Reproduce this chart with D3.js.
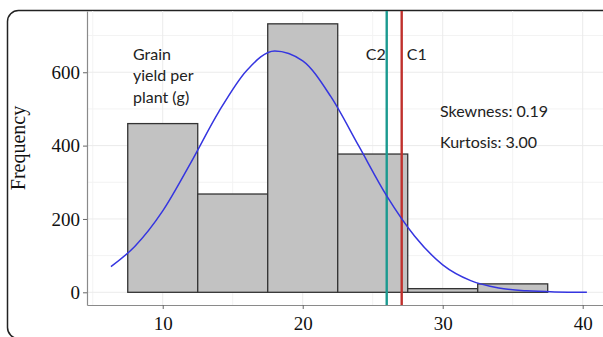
<!DOCTYPE html>
<html><head><meta charset="utf-8">
<script src="https://cdn.jsdelivr.net/npm/d3@7"></script>
<style>html,body{margin:0;padding:0;background:#fff;}svg{display:block;}</style>
</head><body>
<svg id="chart" width="603" height="337"></svg>
<script>
// Histogram bins (grain yield per plant, g)
const binStarts = [7.5, 12.5, 17.5, 22.5, 27.5, 32.5];
const binWidth = 5;
const frequencies = [460, 268, 732, 377, 10, 23];
// Fitted density curve, x values and frequency values
const curveX = [6.3, 8, 10, 12, 14, 16, 18, 20, 22, 24, 26, 28, 30, 32, 34, 36, 38, 40.3];
const curveY = [70, 125, 222, 353, 492, 605, 658, 631, 534, 399, 263, 153, 75, 32, 12, 4, 1, 0];
// Reference lines
const refLines = [{label: "C2", value: 26.0, color: "#1a9a90"}, {label: "C1", value: 27.07, color: "#c0302c"}];
const xTicks = [10, 20, 30, 40];
const yTicks = [0, 200, 400, 600];
const xMinor = [5, 15, 25, 35];
const yMinor = [100, 300, 500, 700];
const annoLines = ["Grain", "yield per", "plant (g)"];
const statsText = ["Skewness: 0.19", "Kurtosis: 3.00"];

const svg = d3.select("#chart");
const panel = {left: 87, right: 603, top: 11, bottom: 305};
const x = d3.scaleLinear().domain([4.59, 41.45]).range([panel.left, panel.right]);
const y = d3.scaleLinear().domain([-34.6, 767]).range([panel.bottom, panel.top]);

// outer frame
svg.append("rect").attr("x", 7.5).attr("y", 10.5).attr("width", 640).attr("height", 328)
  .attr("rx", 11).attr("fill", "none").attr("stroke", "#222").attr("stroke-width", 1.5);

// grid
const g = svg.append("g");
g.selectAll(".gxm").data(xMinor).join("line").attr("x1", d => x(d)).attr("x2", d => x(d))
  .attr("y1", panel.top).attr("y2", panel.bottom).attr("stroke", "#f3f3f3").attr("stroke-width", 1);
g.selectAll(".gym").data(yMinor).join("line").attr("y1", d => y(d)).attr("y2", d => y(d))
  .attr("x1", panel.left).attr("x2", panel.right).attr("stroke", "#f3f3f3").attr("stroke-width", 1);
g.selectAll(".gx").data(xTicks).join("line").attr("x1", d => x(d)).attr("x2", d => x(d))
  .attr("y1", panel.top).attr("y2", panel.bottom).attr("stroke", "#ebebeb").attr("stroke-width", 1);
g.selectAll(".gy").data(yTicks).join("line").attr("y1", d => y(d)).attr("y2", d => y(d))
  .attr("x1", panel.left).attr("x2", panel.right).attr("stroke", "#ebebeb").attr("stroke-width", 1);

// bars
svg.append("g").selectAll("rect").data(binStarts).join("rect")
  .attr("x", d => x(d)).attr("width", d => x(d + binWidth) - x(d))
  .attr("y", (d, i) => y(frequencies[i])).attr("height", (d, i) => y(0) - y(frequencies[i]))
  .attr("fill", "#c2c2c2").attr("stroke", "#333").attr("stroke-width", 1.3);

// reference lines
svg.append("g").selectAll("line").data(refLines).join("line")
  .attr("x1", d => x(d.value)).attr("x2", d => x(d.value))
  .attr("y1", panel.top).attr("y2", panel.bottom)
  .attr("stroke", d => d.color).attr("stroke-width", 2.4);

// curve
const pts = curveX.map((v, i) => [v, curveY[i]]);
svg.append("path").datum(pts)
  .attr("d", d3.line().x(d => x(d[0])).y(d => y(d[1])).curve(d3.curveMonotoneX))
  .attr("fill", "none").attr("stroke", "#3535e0").attr("stroke-width", 1.5);

// axes
const xAxis = svg.append("g").attr("transform", `translate(0,${panel.bottom})`)
  .call(d3.axisBottom(x).tickValues(xTicks).tickSize(4).tickPadding(8).tickSizeOuter(0));
const yAxis = svg.append("g").attr("transform", `translate(${panel.left},0)`)
  .call(d3.axisLeft(y).tickValues(yTicks).tickSize(4).tickPadding(3).tickSizeOuter(0));
[xAxis, yAxis].forEach(a => {
  a.select(".domain").attr("stroke", "#8a8a8a").attr("stroke-width", 1.2);
  a.selectAll(".tick line").attr("stroke", "#666");
  a.selectAll("text").attr("font-family", "'Liberation Serif', 'DejaVu Serif', serif")
    .attr("font-size", 19).attr("fill", "#111");
});
xAxis.selectAll("text").attr("dy", "0.71em");

svg.append("text").attr("transform", "translate(25,148) rotate(-90)")
  .attr("text-anchor", "middle").attr("font-family", "'Liberation Serif', serif")
  .attr("font-size", 20).attr("fill", "#111").text("Frequency");

// annotations
const sans = "Lato, 'Open Sans', sans-serif";
svg.append("g").selectAll("text").data(annoLines).join("text")
  .attr("x", 133).attr("y", (d, i) => 59.5 + i * 21.5)
  .attr("font-family", sans).attr("font-size", 16).attr("fill", "#222").text(d => d);
svg.append("text").attr("x", x(refLines[0].value) - 21).attr("y", 59.5)
  .attr("font-family", sans).attr("font-size", 16).attr("fill", "#222").text(refLines[0].label);
svg.append("text").attr("x", x(refLines[1].value) + 5).attr("y", 59.5)
  .attr("font-family", sans).attr("font-size", 16).attr("fill", "#222").text(refLines[1].label);
svg.append("g").selectAll("text").data(statsText).join("text")
  .attr("x", 440).attr("y", (d, i) => 117 + i * 31)
  .attr("font-family", sans).attr("font-size", 16).attr("fill", "#222").text(d => d);
</script>
</body></html>
